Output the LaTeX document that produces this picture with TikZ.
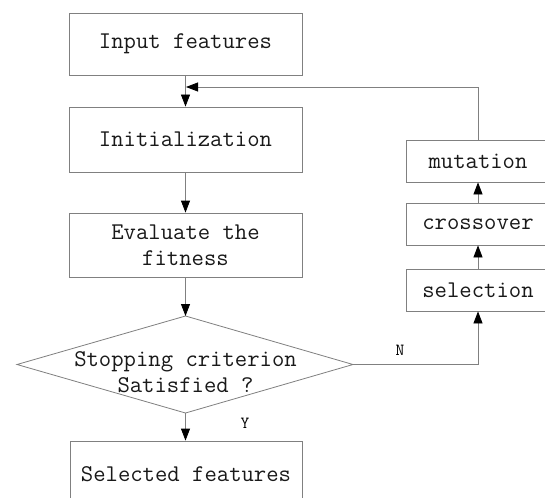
\documentclass[tikz,border=0pt]{standalone}
\usetikzlibrary{arrows.meta}
\begin{document}
\begin{tikzpicture}[x=1pt,y=-1pt,
  line/.style={draw=black!50, line width=0.8pt},
  arr/.style={line, -{Triangle[width=9pt,length=12pt,color=black]}},
  txt/.style={font=\ttfamily\fontsize{24}{26}\selectfont, text=black!90, align=center, inner sep=0pt},
  bigbox/.style={line, txt, rectangle, minimum width=233pt, inner sep=0pt},
  smallbox/.style={line, txt, rectangle, minimum width=144pt, minimum height=42pt},
  lbl/.style={font=\ttfamily\fontsize{17}{17}\selectfont, inner sep=0pt}]
\clip (0,0) rectangle (545,497);
\fill[white] (0,0) rectangle (545,497);
% main column
\node[bigbox, minimum height=62pt] (input) at (185.5,44) {Input features};
\node[bigbox, minimum height=65pt] (init) at (185.5,139.5) {Initialization};
\node[bigbox, minimum height=64pt] (eval) at (185.5,245) {Evaluate the\\fitness};
\node[bigbox, minimum width=232pt, minimum height=66pt] (out) at (186,474) {Selected features};
% diamond
\coordinate (dtop) at (185.5,316);
\coordinate (dright) at (353,364.5);
\coordinate (dbot) at (185.5,413);
\coordinate (dleft) at (17,364.5);
\draw[line] (dtop) -- (dright) -- (dbot) -- (dleft) -- cycle;
\node[txt] (dtext) at (185.5,372) {Stopping criterion\\Satisfied ?};
% right column
\node[smallbox] (sel) at (478,290) {selection};
\node[smallbox] (cross) at (478,224) {crossover};
\node[smallbox] (mut) at (478,161) {mutation};
% connectors
\draw[arr] (input.south) -- (init.north);
\draw[arr] (init.south) -- (eval.north);
\draw[arr] (eval.south) -- (dtop);
\draw[arr] (dbot) -- (dbot |- out.north);
\draw[arr] (dright) -| (sel.south);
\draw[arr] (sel.north) -- (cross.south);
\draw[arr] (cross.north) -- (mut.south);
\coordinate (join) at (186,87);
\draw[arr] (mut.north) |- (join);
% labels
\node[lbl] (nlab) at (400,350) {N};
\node[lbl] (ylab) at (245,423) {Y};
\end{tikzpicture}
\end{document}
